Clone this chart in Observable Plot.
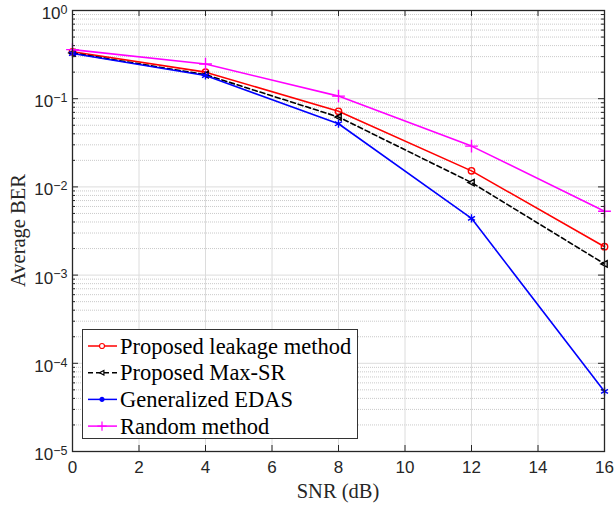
<!DOCTYPE html>
<html><head><meta charset="utf-8">
<script src="https://cdn.jsdelivr.net/npm/d3@7"></script>
<script src="https://cdn.jsdelivr.net/npm/@observablehq/plot@0.6"></script>
<style>body{margin:0;background:#fff}#chart{width:616px;height:507px}
.serif{font-family:"Liberation Serif","Times New Roman",serif !important}</style>
</head><body><div id="chart"></div>
<script>
// ---- data ----
const snr = [0, 4, 8, 12, 16];
const seriesNames = ["Proposed leakage method", "Proposed Max-SR", "Generalized EDAS", "Random method"];
const leakage = [0.34, 0.20, 0.072, 0.0152, 0.0021];
const maxSR   = [0.33, 0.187, 0.062, 0.0112, 0.00134];
const edas    = [0.325, 0.183, 0.052, 0.0044, 0.000048];
const random  = [0.36, 0.247, 0.107, 0.029, 0.0053];
const xTicks = [0, 2, 4, 6, 8, 10, 12, 14, 16];
const yExponents = [0, -1, -2, -3, -4, -5];
const xLabel = "SNR (dB)";
const yLabel = "Average BER";

// ---- styles ----
const colors = ["#ff0000", "#000000", "#0000ff", "#ff00ff"];
const dashes = [null, "5,3", null, null];
const triLeft = {draw(ctx, size) { const s = Math.sqrt(size / Math.PI); ctx.moveTo(-s, 0); ctx.lineTo(s * 0.75, -s * 0.9); ctx.lineTo(s * 0.75, s * 0.9); ctx.closePath(); }};
const symbols = ["circle", triLeft, "asterisk", "plus"];
const radii = [3.2, 3.6, 3.8, 4.2];

const allValues = [leakage, maxSR, edas, random];
const rows = [];
allValues.forEach((vals, i) => snr.forEach((x, j) => rows.push({x, y: vals[j], s: i})));

const yMajor = yExponents.map(e => Math.pow(10, e));
const yMinor = [];
for (let e = -5; e < 0; e++) for (let k = 2; k <= 9; k++) yMinor.push(k * Math.pow(10, e));

const W = 616, H = 507, mL = 72, mR = 12, mT = 10, mB = 56;
const pw = W - mL - mR, ph = H - mT - mB;
const axisColor = "#262626";

const marks = [
  Plot.ruleY(yMinor, {y: d => d, stroke: "#bdbdbd", strokeWidth: 0.8, strokeDasharray: "1,1"}),
  Plot.ruleY(yMajor, {y: d => d, stroke: "#dcdcdc", strokeWidth: 1}),
  Plot.ruleX(xTicks, {x: d => d, stroke: "#dcdcdc", strokeWidth: 1}),
];
allValues.forEach((vals, i) => {
  const d = rows.filter(r => r.s === i);
  marks.push(Plot.line(d, {x: "x", y: "y", stroke: colors[i], strokeWidth: 1.6, strokeDasharray: dashes[i]}));
  marks.push(Plot.dot(d, {x: "x", y: "y", symbol: symbols[i], r: radii[i], stroke: colors[i], fill: "none", strokeWidth: 1.4}));
});
// inward ticks, frame, tick labels
marks.push(
  Plot.tickX(xTicks, {x: d => d, stroke: axisColor, insetTop: ph - 6}),
  Plot.tickX(xTicks, {x: d => d, stroke: axisColor, insetBottom: ph - 6}),
  Plot.tickY(yMajor, {y: d => d, stroke: axisColor, insetRight: pw - 6}),
  Plot.tickY(yMajor, {y: d => d, stroke: axisColor, insetLeft: pw - 6}),
  Plot.tickY(yMinor, {y: d => d, stroke: axisColor, insetRight: pw - 3}),
  Plot.tickY(yMinor, {y: d => d, stroke: axisColor, insetLeft: pw - 3}),
  Plot.frame({stroke: axisColor, strokeWidth: 1.3}),
  Plot.text(xTicks, {x: d => d, y: 1e-5, text: d => String(d), dy: 16, fontSize: 17, fill: axisColor}),
  Plot.text(yExponents, {x: 0, y: e => Math.pow(10, e), text: () => "10", dx: -5, dy: 3, textAnchor: "end", fontSize: 17, fill: axisColor, ariaLabel: () => "ytl"})
);

const plot = Plot.plot({
  width: W, height: H,
  marginLeft: mL, marginRight: mR, marginTop: mT, marginBottom: mB,
  x: {domain: [0, 16], axis: null},
  y: {type: "log", domain: [1e-5, 1], axis: null},
  style: {fontFamily: "'Liberation Sans', Arial, sans-serif", background: "#fff", overflow: "visible"},
  marks
});
document.getElementById("chart").appendChild(plot);

const svg = d3.select(plot);
// superscript exponents on y tick labels
svg.selectAll('text[aria-label="ytl"]').each(function(_, i) {
  const e = yExponents[i];
  d3.select(this).append("tspan").attr("dy", "-0.42em").style("font-size", "12.5px")
    .text(e === 0 ? "0" : "\u2212" + Math.abs(e));
});

// axis titles
const serif = "'Liberation Serif', 'Times New Roman', serif";
svg.append("text").attr("class", "serif").attr("x", mL + pw / 2).attr("y", 498)
  .style("text-anchor", "middle").style("font-family", serif).style("font-size", "20.5px").attr("fill", axisColor).text(xLabel);
svg.append("text").attr("class", "serif").attr("transform", `translate(25,${mT + ph / 2}) rotate(-90)`)
  .style("text-anchor", "middle").style("font-family", serif).style("font-size", "20.5px").attr("fill", axisColor).text(yLabel);

// legend
const lg = svg.append("g");
lg.append("rect").attr("x", 82.5).attr("y", 329.5).attr("width", 275).attr("height", 109)
  .attr("fill", "#fff").attr("stroke", "#333").attr("stroke-width", 1);
const legendSym = [d3.symbolCircle, triLeft, d3.symbolCircle, d3.symbolPlus];
seriesNames.forEach((name, i) => {
  const cy = 346 + i * 26.7;
  lg.append("line").attr("x1", 88).attr("x2", 117).attr("y1", cy).attr("y2", cy)
    .attr("stroke", colors[i]).attr("stroke-width", 1.5).attr("stroke-dasharray", dashes[i] || null);
  const sz = i === 2 ? 12 : (i === 3 ? 30 : 20);
  lg.append("path").attr("d", d3.symbol(legendSym[i], sz)()).attr("transform", `translate(102,${cy})`)
    .attr("fill", i === 2 ? colors[i] : "#fff").attr("stroke", colors[i]).attr("stroke-width", 1.2);
  lg.append("text").attr("class", "serif").attr("x", 120).attr("y", cy).attr("dy", "0.34em")
    .style("text-anchor", "start").style("font-family", serif).style("font-size", "22.5px").attr("fill", "#000").text(name);
});
</script></body></html>
